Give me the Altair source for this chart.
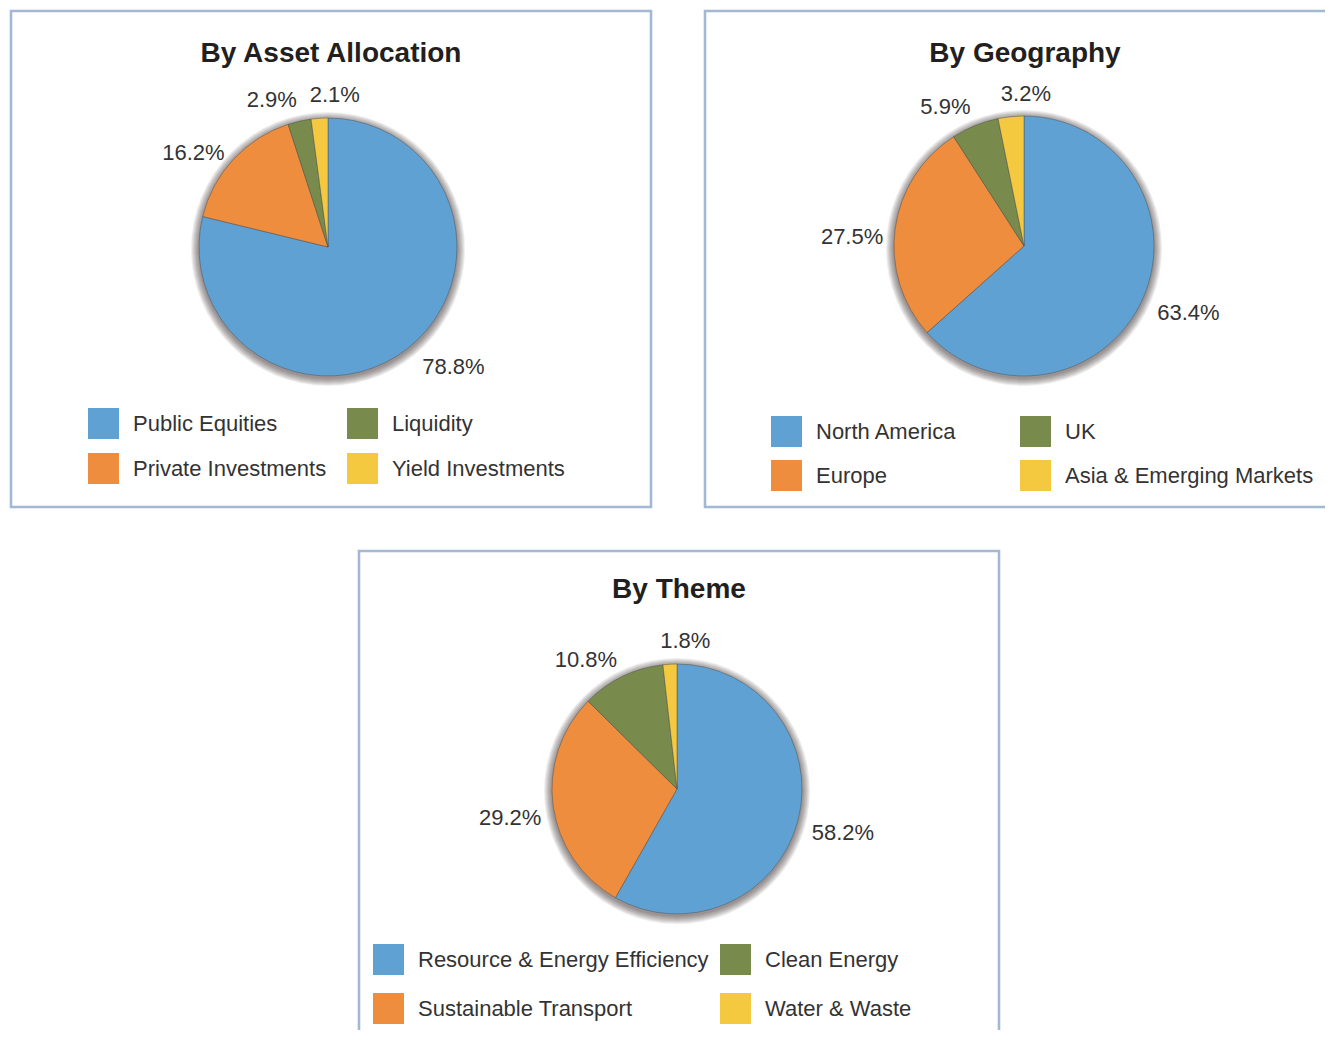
import math
import altair as alt
import pandas as pd

# ---------------- data ----------------
COLORS = ["#5FA1D2", "#EF8D3E", "#798B4C", "#F5C93F"]

ASSET_CATEGORIES = ["Public Equities", "Private Investments", "Liquidity", "Yield Investments"]
ASSET_VALUES = [78.8, 16.2, 2.9, 2.1]

GEO_CATEGORIES = ["North America", "Europe", "UK", "Asia & Emerging Markets"]
GEO_VALUES = [63.4, 27.5, 5.9, 3.2]

THEME_CATEGORIES = ["Resource & Energy Efficiency", "Sustainable Transport", "Clean Energy", "Water & Waste"]
THEME_VALUES = [58.2, 29.2, 10.8, 1.8]

TITLES = ["By Asset Allocation", "By Geography", "By Theme"]

# ---------------- layout (chart pixel space) ----------------
W, H = 1317, 1022
FONT = "Liberation Sans"
BORDER = "#A3B8D4"

PANELS = [
    dict(box=(3, 643, 3, 499), center=(320, 239), r=129, title=(323, 54),
         legend=(80, 400), row_pad=14, col_pad=20),
    dict(box=(697, 1337, 3, 499), center=(1016, 238), r=130, title=(1017, 54),
         legend=(763, 408), row_pad=13, col_pad=63),
    dict(box=(351, 991, 543, 1039), center=(669, 781), r=125, title=(671, 590),
         legend=(365, 936), row_pad=18, col_pad=11),
]


def panel_layers(cats, vals, title, p):
    cx, cy = p["center"]
    R = p["r"]
    df = pd.DataFrame({"category": cats, "value": vals, "k": list(range(len(cats)))})
    one = pd.DataFrame({"d": [0]})
    layers = []

    x0, x1, y0, y1 = p["box"]
    layers.append(
        alt.Chart(one).mark_rect(fill="white", fillOpacity=0, stroke=BORDER, strokeWidth=2.6)
        .encode(x=alt.value(x0), x2=alt.value(x1), y=alt.value(y0), y2=alt.value(y1))
    )
    tx, ty = p["title"]
    layers.append(
        alt.Chart(one).mark_text(text=title, font=FONT, fontWeight="bold", fontSize=28,
                                 color="#231F20", align="center", baseline="alphabetic")
        .encode(x=alt.value(tx), y=alt.value(ty))
    )
    # soft shadow around the pie
    for i in range(1, 9):
        layers.append(
            alt.Chart(one).mark_arc(theta=0, theta2=2 * math.pi, radius=R + i,
                                    color="#2e2622", opacity=0.08)
            .encode(x=alt.value(cx), y=alt.value(cy + 2))
        )

    lx, ly = p["legend"]
    layers.append(
        alt.Chart(df).mark_arc(radius=R, stroke="#4d4d4d", strokeWidth=0.6, strokeOpacity=0.8)
        .encode(
            theta=alt.Theta("value:Q", stack=True),
            order=alt.Order("k:Q"),
            color=alt.Color(
                "category:N",
                scale=alt.Scale(domain=cats, range=COLORS),
                legend=alt.Legend(
                    orient="none", legendX=lx, legendY=ly, columns=2, title=None,
                    symbolType="square", symbolSize=961, symbolStrokeWidth=0,
                    symbolOpacity=1, labelFont=FONT, labelFontSize=22, labelColor="#333333",
                    labelOffset=14, rowPadding=p["row_pad"], columnPadding=p["col_pad"],
                    padding=0, labelLimit=500,
                ),
            ),
            x=alt.value(cx), y=alt.value(cy),
        )
    )
    # percentage labels: anchored at the middle of each slice, just outside the pie
    layers.append(
        alt.Chart(df)
        .transform_stack(stack="value", as_=["v0", "v1"], groupby=[], sort=[alt.SortField("k")])
        .transform_joinaggregate(total="sum(value)")
        .transform_calculate(
            label="format(datum.value, '.1f') + '%'",
            vm="(datum.v0 + datum.v1)/2",
        )
        .transform_calculate(mid="2*PI*datum.vm/datum.total")
        .transform_calculate(s="sin(datum.mid)", c="cos(datum.mid)")
        .mark_text(
            font=FONT, fontSize=22, color="#333333", baseline="middle", radius=R + 12,
            align=alt.ExprRef(expr="datum.s < -0.15 ? 'right' : 'left'"),
            dx=alt.ExprRef(expr="datum.s < -0.15 ? 0 : -9*datum.c"),
            dy=alt.ExprRef(expr="-11*pow(datum.c, 3) + 10*datum.s*datum.s"),
        )
        .encode(
            theta=alt.Theta("vm:Q", stack=None),
            text="label:N",
            x=alt.value(cx), y=alt.value(cy),
        )
    )
    return layers


all_layers = []
for cats, vals, title, p in zip(
    [ASSET_CATEGORIES, GEO_CATEGORIES, THEME_CATEGORIES],
    [ASSET_VALUES, GEO_VALUES, THEME_VALUES],
    TITLES, PANELS,
):
    all_layers += panel_layers(cats, vals, title, p)

chart = (
    alt.layer(*all_layers)
    .resolve_scale(color="independent")
    .properties(width=W, height=H, autosize=alt.AutoSizeParams(type="none"), padding=0,
                background="white")
    .configure_view(stroke=None)
)

chart.save("out.html", embed_options={"renderer": "svg", "actions": False})
